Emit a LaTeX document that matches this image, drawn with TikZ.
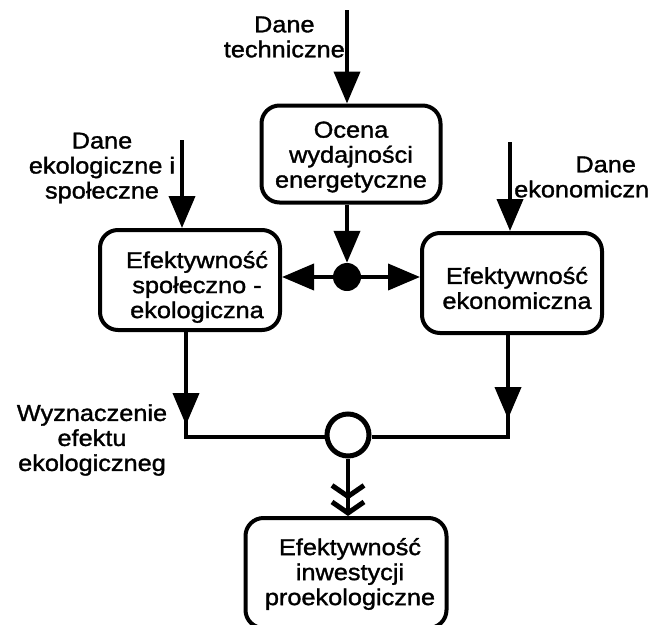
\documentclass[tikz,border=0pt]{standalone}
\usepackage{fontspec}
\setmainfont{Liberation Sans}[FakeStretch=1.1,FakeBold=1.4]
\usetikzlibrary{arrows.meta}
\begin{document}
\begin{tikzpicture}[x=1pt,y=-1pt,
  box/.style={draw,line width=4pt,rounded corners=18pt,inner sep=0pt},
  lbl/.style={align=center,inner sep=0pt,font=\fontsize{23}{25}\selectfont},
  tip/.style={-{Triangle[length=32pt,width=26pt]}},
  flow/.style={line width=4pt,tip},
  dbl/.style={line width=4.5pt,-{Straight Barb[length=11pt,width=32pt,line width=5pt] Straight Barb[length=11pt,width=32pt,line width=5pt]}}
]
\useasboundingbox (0,0) rectangle (664,624);
% boxes
\node[box,minimum width=179pt,minimum height=97pt] (ocena) at (351,154) {};
\node[lbl] (ocenat) at (351,157) {Ocena\\wydajności\\energetyczne};
\node[box,minimum width=180pt,minimum height=100pt] (spol) at (190,280) {};
\node[lbl] (spolt) at (197,287) {Efektywność\\społeczno -\\ekologiczna};
\node[box,minimum width=180pt,minimum height=100pt] (ekon) at (512,283) {};
\node[lbl] (ekont) at (517,288) {Efektywność\\ekonomiczna};
\node[box,minimum width=201pt,minimum height=110pt] (inw) at (346,573) {};
\node[lbl] (inwt) at (350,574) {Efektywność\\inwestycji\\proekologiczne};
% junctions
\node[circle,fill,inner sep=0pt,minimum size=28pt] (dot) at (347,277) {};
\node[circle,draw,line width=5pt,inner sep=0pt,minimum size=42pt] (ring) at (348,435) {};
% inputs
\coordinate (ttop) at (347,10);
\coordinate (ltop) at (182,140);
\coordinate (rtop) at (510,142);
\draw[flow] (ttop) -- (ttop |- ocena.north);
\draw[flow] (ltop) -- (ltop |- spol.north);
\draw[flow] (rtop) -- (rtop |- ekon.north);
% labels
\node[lbl,anchor=east] (dtech) at (345,37) {Dane\\techniczne};
\node[lbl] (deko) at (102,168) {Dane\\ekologiczne i\\społeczne};
\node[lbl,anchor=west] (dekon) at (514,177) {\hspace*{48pt}Dane\\ekonomiczn};
\node[lbl] (wyzn) at (92,440) {Wyznaczenie\\efektu\\ekologiczneg};
% internal flows
\draw[flow] (dot |- ocena.south) -- (dot.north);
\draw[flow] (dot.west) -- (spol.east |- dot);
\draw[flow] (dot.east) -- (ekon.west |- dot);
\coordinate (lc) at (186,437);
\coordinate (rc) at (508,437);
\coordinate (lb) at (186,330);
\coordinate (rb) at (508,333);
\coordinate (lh) at (186,425);
\coordinate (rh) at (508,419);
\draw[line width=4pt] (lb) -- (lc) -- (ring.west |- lc);
\draw[line width=4pt] (rb) -- (rc) -- (ring.east |- rc);
\draw[flow] (lb) -- (lh);
\draw[flow] (rb) -- (rh);
\draw[dbl] (ring.south) -- (inw.north -| ring);
\end{tikzpicture}
\end{document}
